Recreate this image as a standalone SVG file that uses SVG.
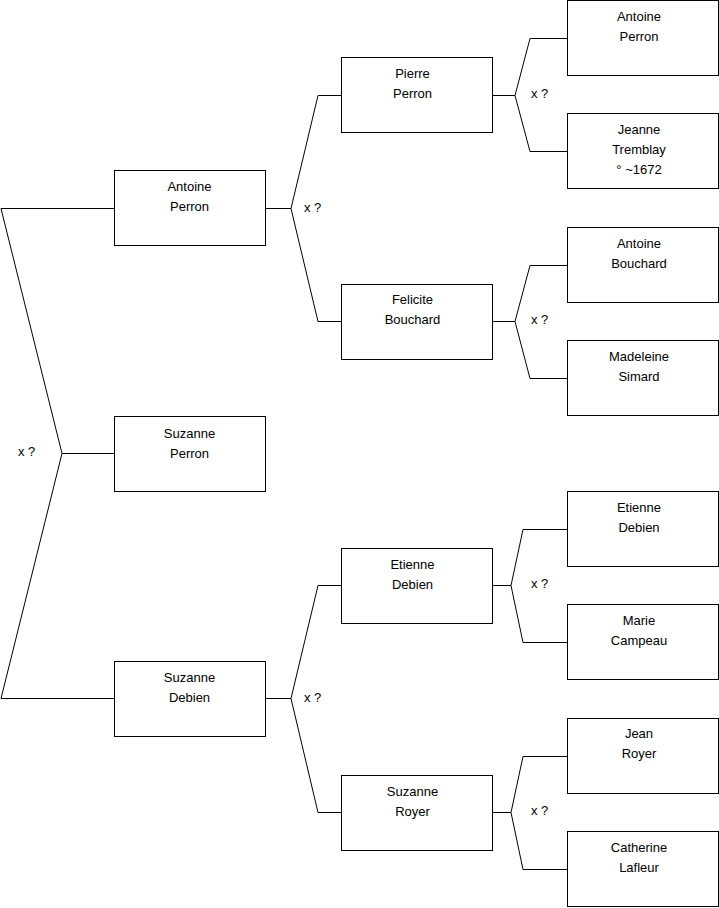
<svg xmlns="http://www.w3.org/2000/svg" width="719" height="908" viewBox="0 0 719 908">
<style>
.box{fill:#fff;stroke:#000;stroke-width:1}
.c{fill:none;stroke:#000;stroke-width:1}
text{font-family:"Liberation Sans",Arial,sans-serif;font-size:13px;fill:#000}
.n{text-anchor:middle}
</style>
<rect width="719" height="908" fill="#fff"/>
<g id="connectors">
<polyline class="c" points="114,208.5 1,208.5 62,453.5 1,698.5 114,698.5"/>
<line class="c" x1="62" y1="453.5" x2="114" y2="453.5"/>
<polyline class="c" points="341,95.5 318,95.5 291,208.5 318,321.5 341,321.5"/>
<line class="c" x1="265" y1="208.5" x2="291" y2="208.5"/>
<polyline class="c" points="341,585.5 318,585.5 291,698.5 318,812.5 341,812.5"/>
<line class="c" x1="265" y1="698.5" x2="291" y2="698.5"/>
<polyline class="c" points="567,38.5 530,38.5 515,95.5 530,151.5 567,151.5"/>
<line class="c" x1="492" y1="95.5" x2="515" y2="95.5"/>
<polyline class="c" points="567,265.5 530,265.5 515,321.5 530,378.5 567,378.5"/>
<line class="c" x1="492" y1="321.5" x2="515" y2="321.5"/>
<polyline class="c" points="567,529.5 523,529.5 511,585.5 523,642.5 567,642.5"/>
<line class="c" x1="492" y1="585.5" x2="511" y2="585.5"/>
<polyline class="c" points="567,756.5 523,756.5 511,812.5 523,869.5 567,869.5"/>
<line class="c" x1="492" y1="812.5" x2="511" y2="812.5"/>
<text x="18" y="456">x ?</text>
<text x="304" y="212">x ?</text>
<text x="304" y="702">x ?</text>
<text x="531" y="98">x ?</text>
<text x="531" y="324">x ?</text>
<text x="531" y="588">x ?</text>
<text x="531" y="815">x ?</text>
</g>
<g id="n_antoine_perron_1"><rect class="box" x="114.5" y="170.5" width="151" height="75"/><text class="n" x="189.5" y="191">Antoine</text><text class="n" x="189.5" y="211">Perron</text></g>
<g id="n_suzanne_perron"><rect class="box" x="114.5" y="416.5" width="151" height="75"/><text class="n" x="189.5" y="438">Suzanne</text><text class="n" x="189.5" y="458">Perron</text></g>
<g id="n_suzanne_debien"><rect class="box" x="114.5" y="661.5" width="151" height="75"/><text class="n" x="189.5" y="682">Suzanne</text><text class="n" x="189.5" y="702">Debien</text></g>
<g id="n_pierre_perron"><rect class="box" x="341.5" y="57.5" width="151" height="75"/><text class="n" x="412.5" y="78">Pierre</text><text class="n" x="412.5" y="98">Perron</text></g>
<g id="n_felicite_bouchard"><rect class="box" x="341.5" y="284.5" width="151" height="75"/><text class="n" x="412.5" y="304">Felicite</text><text class="n" x="412.5" y="324">Bouchard</text></g>
<g id="n_etienne_debien_1"><rect class="box" x="341.5" y="548.5" width="151" height="75"/><text class="n" x="412.5" y="569">Etienne</text><text class="n" x="412.5" y="589">Debien</text></g>
<g id="n_suzanne_royer"><rect class="box" x="341.5" y="775.5" width="151" height="75"/><text class="n" x="412.5" y="796">Suzanne</text><text class="n" x="412.5" y="816">Royer</text></g>
<g id="n_antoine_perron_2"><rect class="box" x="567.5" y="0.5" width="151" height="75"/><text class="n" x="639" y="21">Antoine</text><text class="n" x="639" y="41">Perron</text></g>
<g id="n_jeanne_tremblay"><rect class="box" x="567.5" y="113.5" width="151" height="75"/><text class="n" x="639" y="134">Jeanne</text><text class="n" x="639" y="154">Tremblay</text><text class="n" x="639" y="174">° ~1672</text></g>
<g id="n_antoine_bouchard"><rect class="box" x="567.5" y="227.5" width="151" height="75"/><text class="n" x="639" y="248">Antoine</text><text class="n" x="639" y="268">Bouchard</text></g>
<g id="n_madeleine_simard"><rect class="box" x="567.5" y="340.5" width="151" height="75"/><text class="n" x="639" y="361">Madeleine</text><text class="n" x="639" y="381">Simard</text></g>
<g id="n_etienne_debien_2"><rect class="box" x="567.5" y="491.5" width="151" height="75"/><text class="n" x="639" y="512">Etienne</text><text class="n" x="639" y="532">Debien</text></g>
<g id="n_marie_campeau"><rect class="box" x="567.5" y="604.5" width="151" height="75"/><text class="n" x="639" y="625">Marie</text><text class="n" x="639" y="645">Campeau</text></g>
<g id="n_jean_royer"><rect class="box" x="567.5" y="718.5" width="151" height="75"/><text class="n" x="639" y="738">Jean</text><text class="n" x="639" y="758">Royer</text></g>
<g id="n_catherine_lafleur"><rect class="box" x="567.5" y="831.5" width="151" height="75"/><text class="n" x="639" y="852">Catherine</text><text class="n" x="639" y="872">Lafleur</text></g>
</svg>
